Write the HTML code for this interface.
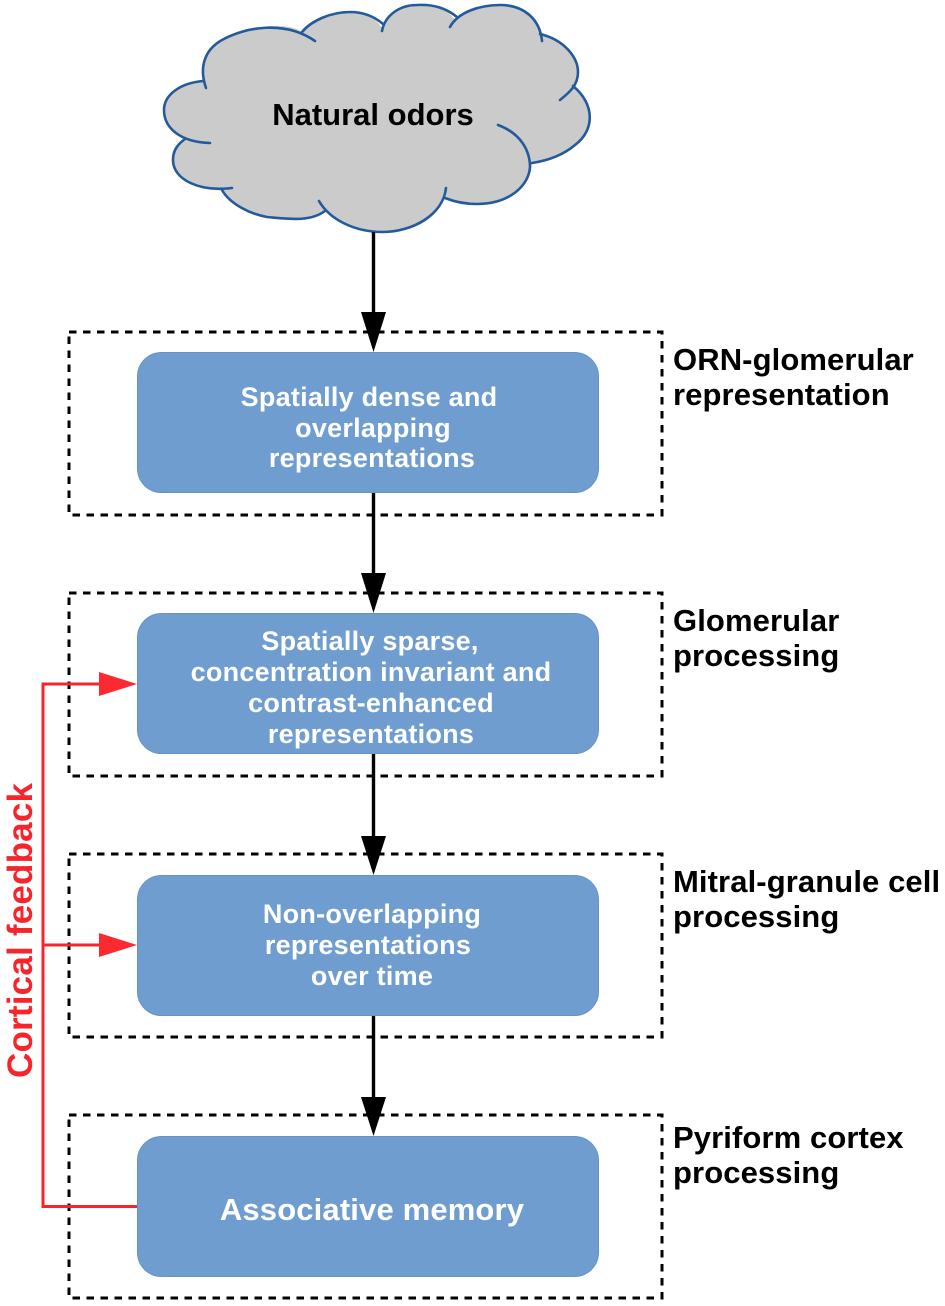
<!DOCTYPE html>
<html><head><meta charset="utf-8"><style>
html,body{margin:0;padding:0;background:#fff}
svg{display:block}
text{font-family:"Liberation Sans",sans-serif;font-weight:bold}
.w{fill:#fff;font-size:27px;text-anchor:middle;letter-spacing:.25px}
.k{fill:#000;font-size:31px;letter-spacing:.1px}
.d{fill:none;stroke:#000;stroke-width:3;stroke-dasharray:7.5 6.5}
.b{fill:#6f9dd0;stroke:#6593c8;stroke-width:1}
.c{fill:none;stroke:#225a9c;stroke-width:2.6;stroke-linecap:round}
</style></head><body>
<svg width="945" height="1306" viewBox="0 0 945 1306" xmlns="http://www.w3.org/2000/svg">
<rect width="945" height="1306" fill="#fff"/>
<path d="M206 88C199 68 204 50 222 40C245 27 285 20 302 32C312 20 332 12 350 12C365 12 376 18 382 28C385 15 400 5 417 5C435 4 447 9 455 20C462 10 480 5 500 5C525 5 538 20 540 34C565 40 578 58 578 72C578 80 576 83 573 86C595 104 595 130 575 145C562 156 545 161 532 163C530 185 510 204 477 204C465 204 455 202 445 198C435 222 412 232 383 232C355 232 335 222 325 211C310 222 290 219 267 217C250 214 230 204 222 190C200 192 173 180 173 160C173 150 178 144 185 139C172 132 164 122 164 110C164 95 180 83 203 81Z" fill="#cbcbcb"/>
<path class="c" d="M206 88C199 68 204 50 222 40C245 27 285 20 315 41"/>
<path class="c" d="M302 32C312 20 332 12 350 12C365 12 376 18 383 24"/>
<path class="c" d="M382 31C385 15 400 5 417 5C435 4 447 9 457 17"/>
<path class="c" d="M450 27C458 12 480 5 500 5C525 5 540 20 542 41"/>
<path class="c" d="M540 34C565 40 578 58 578 72C578 85 570 92 560 100"/>
<path class="c" d="M573 86C595 104 595 130 575 145C562 156 545 161 532 163"/>
<path class="c" d="M498 125C520 133 530 150 530 167C529 185 510 204 477 204C465 204 455 202 445 198"/>
<path class="c" d="M446 188C443 215 412 232 383 232C355 232 330 220 319 201"/>
<path class="c" d="M325 211C310 222 290 219 267 217C250 214 230 204 222 190"/>
<path class="c" d="M232 188C200 192 173 180 173 160C173 150 178 144 185 139"/>
<path class="c" d="M210 143C180 142 164 128 164 110C164 95 180 83 203 81"/>
<text x="373" y="125" style="font-size:31px;text-anchor:middle">Natural odors</text>

<rect class="d" x="69" y="332" width="593" height="183"/>
<rect class="d" x="69" y="593" width="593" height="183"/>
<rect class="d" x="69" y="854" width="593" height="183"/>
<rect class="d" x="69" y="1115" width="593" height="183"/>

<g stroke="#000" stroke-width="3.400">
<line x1="373.500" y1="232" x2="373.500" y2="320"/>
<line x1="373.500" y1="493" x2="373.500" y2="581"/>
<line x1="373.500" y1="754" x2="373.500" y2="842"/>
<line x1="373.500" y1="1016" x2="373.500" y2="1104"/>
</g>
<g fill="#000">
<polygon points="361,312 386,312 373.500,352"/>
<polygon points="361,573 386,573 373.500,613"/>
<polygon points="361,836 386,836 373.500,875"/>
<polygon points="361,1097 386,1097 373.500,1136"/>
</g>

<rect class="b" x="137.500" y="352.500" width="461" height="140" rx="24"/>
<rect class="b" x="137.500" y="613.500" width="461" height="140" rx="24"/>
<rect class="b" x="137.500" y="875.500" width="461" height="140" rx="24"/>
<rect class="b" x="137.500" y="1136.500" width="461" height="140" rx="24"/>

<path d="M137 1206.500H43V684H105M43 945H105" fill="none" stroke="#f5252b" stroke-width="3"/>
<polygon points="99,672 137,684 99,696" fill="#fb2a30"/>
<polygon points="99,933 137,945 99,957" fill="#fb2a30"/>

<text class="w" x="369" y="406">Spatially dense and</text>
<text class="w" x="373" y="437">overlapping</text>
<text class="w" x="372" y="467">representations</text>
<text class="w" x="370" y="650">Spatially sparse,</text>
<text class="w" x="371" y="681">concentration invariant and</text>
<text class="w" x="371" y="712">contrast-enhanced</text>
<text class="w" x="371" y="743">representations</text>
<text class="w" x="372" y="923">Non-overlapping</text>
<text class="w" x="368" y="954">representations</text>
<text class="w" x="372" y="985">over time</text>
<text class="w" x="372" y="1220" style="font-size:31px;letter-spacing:.15px">Associative memory</text>

<text class="k" x="673" y="370">ORN-glomerular</text>
<text class="k" x="673" y="405">representation</text>
<text class="k" x="673" y="631">Glomerular</text>
<text class="k" x="673" y="666">processing</text>
<text class="k" x="673" y="892">Mitral-granule cell</text>
<text class="k" x="673" y="927">processing</text>
<text class="k" x="673" y="1148">Pyriform cortex</text>
<text class="k" x="673" y="1183">processing</text>

<text transform="translate(32 1078) rotate(-90)" style="font-size:35px;fill:#f5252b;letter-spacing:.2px">Cortical feedback</text>
</svg>
</body></html>
